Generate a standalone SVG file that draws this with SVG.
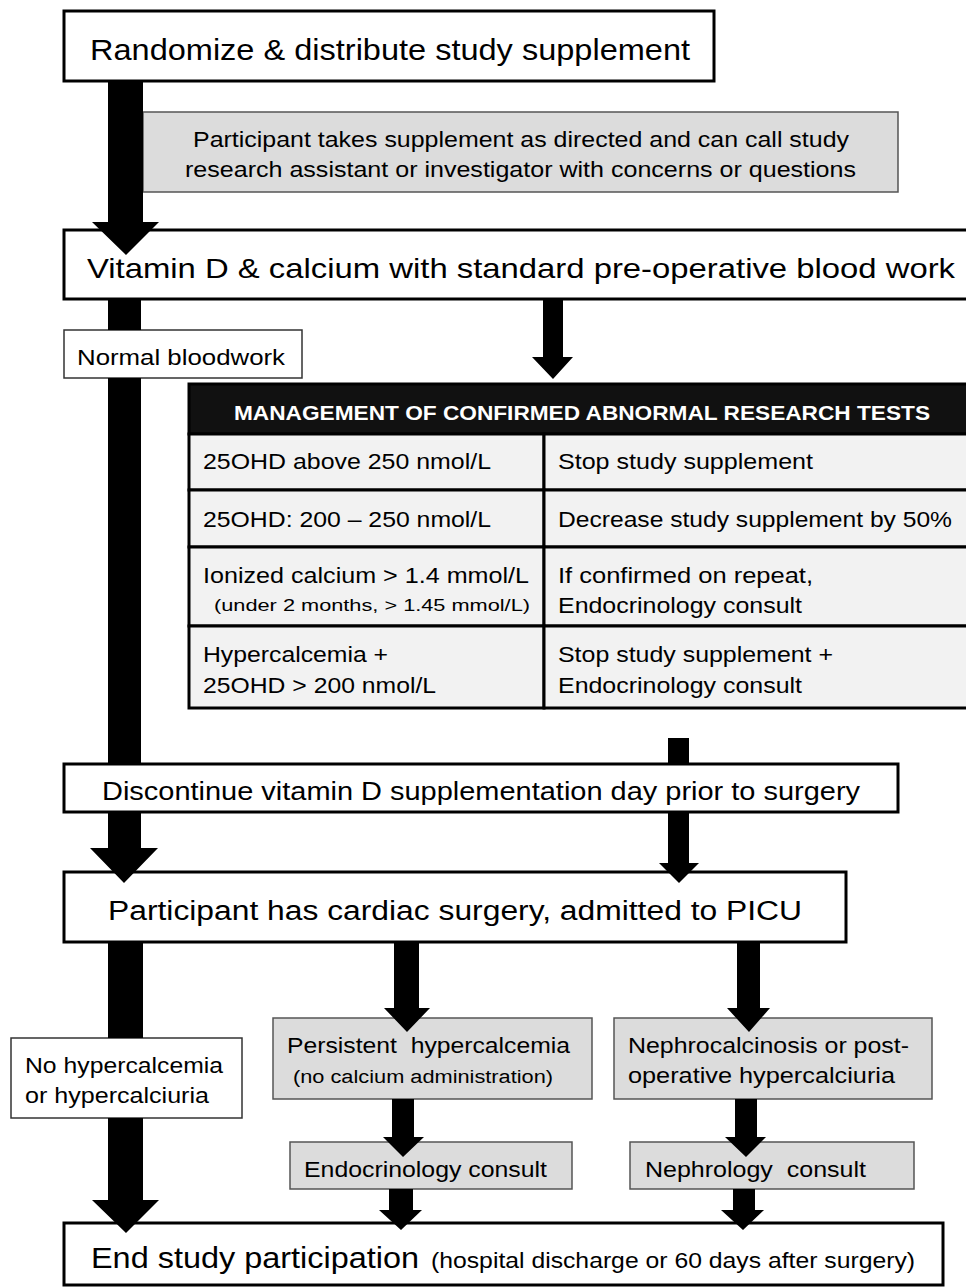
<svg xmlns="http://www.w3.org/2000/svg" width="966" height="1288" viewBox="0 0 966 1288">
<style>
text{font-family:"Liberation Sans",Arial,sans-serif;fill:#000}
.box{fill:#fff;stroke:#000;stroke-width:3}
.gray{fill:#dcdcdc;stroke:#555;stroke-width:1.5}
.lab{fill:#fff;stroke:#333;stroke-width:1.5}
.cell{fill:#f2f2f2;stroke:#000;stroke-width:3}
.conn{fill:#000;stroke:none}
.hdr{fill:#fff;font-weight:bold}
</style>
<rect width="966" height="1288" fill="#fff"/>
<g id="n-randomize"><rect class="box" x="64" y="11" width="650" height="70"/><text x="90" y="60" font-size="29" textLength="600" lengthAdjust="spacingAndGlyphs">Randomize &amp; distribute study supplement</text></g>
<g id="n-participant-takes"><rect class="gray" x="143" y="112" width="755" height="80"/><text x="193" y="147" font-size="22" textLength="656" lengthAdjust="spacingAndGlyphs">Participant takes supplement as directed and can call study</text><text x="185" y="177" font-size="22" textLength="671" lengthAdjust="spacingAndGlyphs">research assistant or investigator with concerns or questions</text></g>
<g id="n-vitd"><rect class="box" x="64" y="230" width="912" height="69"/><text x="87" y="278" font-size="28" textLength="868" lengthAdjust="spacingAndGlyphs">Vitamin D &amp; calcium with standard pre-operative blood work</text></g>
<g id="n-normal"><rect class="lab" x="64" y="330" width="238" height="48"/><text x="77" y="365" font-size="22" textLength="208" lengthAdjust="spacingAndGlyphs">Normal bloodwork</text></g>
<g id="n-table">
<rect x="189" y="384" width="790" height="50" fill="#111" stroke="#000" stroke-width="3"/>
<text class="hdr" x="234" y="420" font-size="21" textLength="696" lengthAdjust="spacingAndGlyphs">MANAGEMENT OF CONFIRMED ABNORMAL RESEARCH TESTS</text>
<rect class="cell" x="189" y="434" width="355" height="56"/><rect class="cell" x="544" y="434" width="435" height="56"/>
<rect class="cell" x="189" y="490" width="355" height="57"/><rect class="cell" x="544" y="490" width="435" height="57"/>
<rect class="cell" x="189" y="547" width="355" height="79"/><rect class="cell" x="544" y="547" width="435" height="79"/>
<rect class="cell" x="189" y="626" width="355" height="82"/><rect class="cell" x="544" y="626" width="435" height="82"/>
<text x="203" y="469" font-size="22" textLength="288" lengthAdjust="spacingAndGlyphs">25OHD above 250 nmol/L</text>
<text x="558" y="469" font-size="22" textLength="255" lengthAdjust="spacingAndGlyphs">Stop study supplement</text>
<text x="203" y="527" font-size="22" textLength="288" lengthAdjust="spacingAndGlyphs">25OHD: 200 – 250 nmol/L</text>
<text x="558" y="527" font-size="22" textLength="394" lengthAdjust="spacingAndGlyphs">Decrease study supplement by 50%</text>
<text x="203" y="583" font-size="22" textLength="326" lengthAdjust="spacingAndGlyphs">Ionized calcium &gt; 1.4 mmol/L</text>
<text x="214" y="611" font-size="17" textLength="316" lengthAdjust="spacingAndGlyphs">(under 2 months, &gt; 1.45 mmol/L)</text>
<text x="558" y="583" font-size="22" textLength="255" lengthAdjust="spacingAndGlyphs">If confirmed on repeat,</text>
<text x="558" y="613" font-size="22" textLength="244" lengthAdjust="spacingAndGlyphs">Endocrinology consult</text>
<text x="203" y="662" font-size="22" textLength="185" lengthAdjust="spacingAndGlyphs">Hypercalcemia +</text>
<text x="203" y="693" font-size="22" textLength="233" lengthAdjust="spacingAndGlyphs">25OHD &gt; 200 nmol/L</text>
<text x="558" y="662" font-size="22" textLength="275" lengthAdjust="spacingAndGlyphs">Stop study supplement +</text>
<text x="558" y="693" font-size="22" textLength="244" lengthAdjust="spacingAndGlyphs">Endocrinology consult</text>
</g>
<g id="n-discontinue"><rect class="box" x="64" y="764" width="834" height="48"/><text x="102" y="800" font-size="25" textLength="758" lengthAdjust="spacingAndGlyphs">Discontinue vitamin D supplementation day prior to surgery</text></g>
<g id="n-surgery"><rect class="box" x="64" y="872" width="782" height="70"/><text x="108" y="920" font-size="27" textLength="694" lengthAdjust="spacingAndGlyphs">Participant has cardiac surgery, admitted to PICU</text></g>
<g id="n-nohyper"><rect class="lab" x="11" y="1038" width="231" height="80"/><text x="25" y="1073" font-size="22" textLength="198" lengthAdjust="spacingAndGlyphs">No hypercalcemia</text><text x="25" y="1103" font-size="22" textLength="184" lengthAdjust="spacingAndGlyphs">or hypercalciuria</text></g>
<g id="n-persistent"><rect class="gray" x="273" y="1018" width="319" height="81"/><text x="287" y="1053" font-size="22" textLength="283" lengthAdjust="spacingAndGlyphs" xml:space="preserve">Persistent  hypercalcemia</text><text x="293" y="1083" font-size="18" textLength="260" lengthAdjust="spacingAndGlyphs">(no calcium administration)</text></g>
<g id="n-nephrocalc"><rect class="gray" x="614" y="1018" width="318" height="81"/><text x="628" y="1053" font-size="22" textLength="281" lengthAdjust="spacingAndGlyphs">Nephrocalcinosis or post-</text><text x="628" y="1083" font-size="22" textLength="267" lengthAdjust="spacingAndGlyphs">operative hypercalciuria</text></g>
<g id="n-endo"><rect class="gray" x="290" y="1142" width="282" height="47"/><text x="304" y="1177" font-size="22" textLength="243" lengthAdjust="spacingAndGlyphs">Endocrinology consult</text></g>
<g id="n-nephro"><rect class="gray" x="630" y="1142" width="284" height="47"/><text x="645" y="1177" font-size="22" textLength="221" lengthAdjust="spacingAndGlyphs" xml:space="preserve">Nephrology  consult</text></g>
<g id="n-end"><rect class="box" x="64" y="1223" width="879" height="62"/><text x="91" y="1268" font-size="29" textLength="328" lengthAdjust="spacingAndGlyphs">End study participation</text><text x="431" y="1268" font-size="22" textLength="484" lengthAdjust="spacingAndGlyphs">(hospital discharge or 60 days after surgery)</text></g>
<g id="connectors" class="conn">
<path d="M108,81 H143 V222 H159 L126,255 L92,222 H108 Z"/>
<rect x="108" y="299" width="33" height="31"/>
<rect x="108" y="378" width="33" height="386"/>
<path d="M108,813 H141 V848 H158 L124,883 L90,848 H108 Z"/>
<path d="M543,299 H563 V357 H573 L553,379 L532,357 H543 Z"/>
<rect x="668" y="738" width="21" height="26"/>
<path d="M668,813 H689 V863 H699 L679,883 L659,863 H668 Z"/>
<rect x="108" y="943" width="35" height="95"/>
<path d="M108,1118 H143 V1200 H159 L126,1233 L92,1200 H108 Z"/>
<path d="M394,943 H419 V1008 H430 L407,1032 L384,1008 H394 Z"/>
<path d="M737,943 H760 V1008 H770 L749,1032 L727,1008 H737 Z"/>
<path d="M392,1099 H414 V1137 H424 L403,1157 L383,1137 H392 Z"/>
<path d="M735,1099 H757 V1137 H766 L746,1157 L725,1137 H735 Z"/>
<path d="M389,1189 H413 V1210 H422 L401,1230 L379,1210 H389 Z"/>
<path d="M733,1189 H755 V1210 H764 L743,1230 L721,1210 H733 Z"/>
</g>
</svg>
